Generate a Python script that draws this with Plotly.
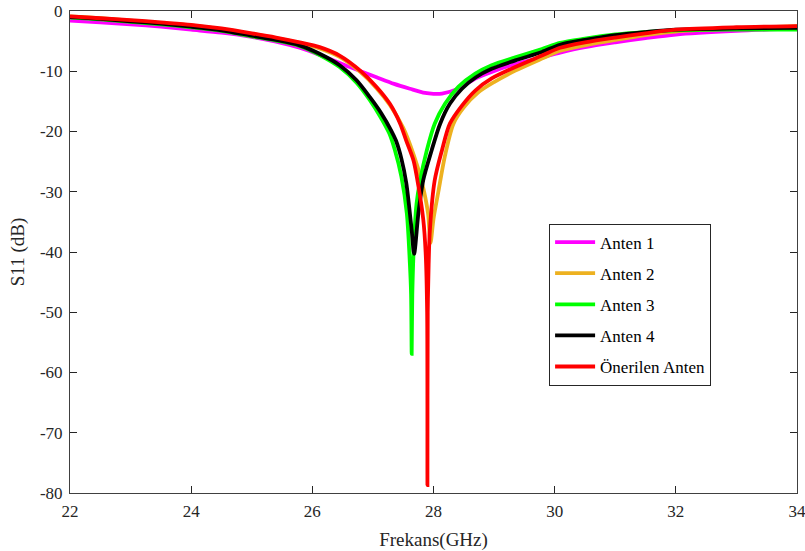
import plotly.graph_objects as go

# ---- data ----
names = ["Anten 1", "Anten 2", "Anten 3", "Anten 4", "Önerilen Anten"]
colors = ["#FF00FF", "#EDB120", "#00FF00", "#000000", "#FF0000"]

f_a1 = [22, 22.5, 23, 23.5, 24, 24.5, 25, 25.4, 25.79, 26.2, 26.62, 27.06, 27.35, 27.61,
        27.86, 28.0, 28.14, 28.41, 28.69, 28.96, 29.35, 29.79, 30.09, 30.5, 31, 31.5,
        32, 33, 34]
s_a1 = [-1.6, -1.9, -2.2, -2.6, -3.1, -3.6, -4.3, -5.1, -6.1, -7.6, -9.3, -11.0, -12.1,
        -12.9, -13.6, -13.75, -13.7, -12.9, -11.2, -10.1, -8.8, -7.7, -6.9, -6.0, -5.2,
        -4.5, -3.9, -3.3, -2.9]

f_a2 = [22, 22.5, 23, 23.5, 24, 24.5, 25, 25.4, 25.79, 26.12, 26.45, 26.79, 27.06, 27.28,
        27.5, 27.67, 27.8, 27.91, 27.95, 28.0, 28.08, 28.19, 28.33, 28.5, 28.74, 29.0,
        29.35, 29.79, 30.09, 30.5, 31, 31.5, 32, 33, 34]
s_a2 = [-0.9, -1.2, -1.6, -2.0, -2.4, -3.0, -3.8, -4.5, -5.3, -6.2, -7.6, -10.1, -12.8,
        -15.6, -19.4, -23.8, -28.1, -33.6, -38.5, -34.5, -30.0, -24.0, -18.7, -16.0,
        -13.5, -11.8, -9.9, -7.9, -6.6, -5.7, -4.8, -4.0, -3.4, -2.9, -2.5]

f_a3 = [22, 22.5, 23, 23.5, 24, 24.5, 25, 25.4, 25.79, 26.12, 26.45, 26.73, 26.95, 27.12,
        27.27, 27.36, 27.47, 27.56, 27.61, 27.63, 27.64, 27.65, 27.68, 27.72, 27.78,
        27.89, 28.02, 28.19, 28.41, 28.69, 28.96, 29.35, 29.79, 30.09, 30.5, 31, 31.5,
        32, 33, 34]
s_a3 = [-1.1, -1.4, -1.8, -2.2, -2.7, -3.3, -4.2, -4.9, -5.8, -7.3, -9.3, -11.9, -14.8,
        -17.5, -20.3, -23.0, -27.5, -33.6, -41.9, -47.0, -56.9, -47.0, -38.0, -32.0,
        -28.1, -23.1, -18.7, -15.4, -12.6, -10.4, -9.0, -7.7, -6.3, -5.3, -4.6, -3.9,
        -3.5, -3.2, -3.1, -3.1]

f_a4 = [22, 22.5, 23, 23.5, 24, 24.5, 25, 25.4, 25.79, 26.12, 26.45, 26.73, 26.95, 27.14,
        27.3, 27.38, 27.47, 27.55, 27.64, 27.68, 27.75, 27.83, 27.97, 28.11, 28.27,
        28.47, 28.7, 28.96, 29.35, 29.79, 30.09, 30.5, 31, 31.5, 32, 33, 34]
s_a4 = [-1.0, -1.3, -1.7, -2.1, -2.6, -3.2, -4.1, -4.8, -5.7, -7.1, -9.0, -11.5, -14.3,
        -17.0, -19.8, -21.5, -24.5, -28.5, -36.4, -40.3, -33.6, -28.1, -23.1, -18.7,
        -15.4, -12.9, -11.0, -9.6, -8.2, -6.8, -5.6, -4.8, -4.0, -3.5, -3.1, -2.9, -2.8]

f_prop = [22, 22.5, 23, 23.5, 24, 24.5, 25, 25.4, 25.79, 26.12, 26.45, 26.79, 27.06, 27.28,
          27.45, 27.55, 27.67, 27.75, 27.83, 27.87, 27.895, 27.90, 27.905, 27.92, 27.94,
          28.02, 28.14, 28.27, 28.47, 28.69, 28.96, 29.35, 29.79, 30.09, 30.5, 31, 31.5,
          32, 33, 34]
s_prop = [-0.9, -1.2, -1.5, -1.9, -2.3, -2.9, -3.7, -4.4, -5.2, -6.0, -7.4, -9.9, -12.6,
          -15.4, -18.7, -21.5, -24.8, -29.0, -34.5, -40.0, -50.0, -78.7, -50.0, -42.0,
          -36.4, -28.1, -23.1, -18.7, -15.7, -13.2, -11.2, -9.3, -7.4, -6.1, -5.2, -4.4,
          -3.7, -3.1, -2.7, -2.5]

series_f = [f_a1, f_a2, f_a3, f_a4, f_prop]
series_s = [s_a1, s_a2, s_a3, s_a4, s_prop]

x_ticks = [22, 24, 26, 28, 30, 32, 34]
y_ticks = [-80, -70, -60, -50, -40, -30, -20, -10, 0]

FONT = "Liberation Serif, Times New Roman, serif"

fig = go.Figure()
for i, (nm, col) in enumerate(zip(names, colors)):
    fig.add_trace(go.Scatter(
        x=series_f[i], y=series_s[i], mode="lines", name=nm,
        line=dict(color=col, width=3.8, shape="spline", smoothing=0.8),
        legendgroup=f"g{i}",
    ))

axis_common = dict(
    showgrid=False, zeroline=False, showline=True, linecolor="#404040", linewidth=1,
    mirror="ticks", ticks="inside", ticklen=7, tickwidth=1, tickcolor="#262626",
    tickfont=dict(family=FONT, size=17, color="#262626"), automargin=False,
    ticklabeloverflow="allow", ticklabelstandoff=3,
)

fig.update_layout(
    width=805, height=551,
    margin=dict(l=70, r=8, t=10.5, b=58),
    paper_bgcolor="white", plot_bgcolor="white",
    font=dict(family=FONT, color="#262626"),
    xaxis=dict(range=[22, 34], tickvals=x_ticks, ticktext=[str(v) for v in x_ticks],
               title=dict(text="Frekans(GHz)", font=dict(family=FONT, size=19), standoff=12),
               **axis_common),
    yaxis=dict(range=[-80, 0], tickvals=y_ticks, ticktext=[str(v) for v in y_ticks],
               title=dict(text="S11 (dB)", font=dict(family=FONT, size=19), standoff=10),
               **axis_common),
    legend=dict(
        x=0.659, y=0.559, xanchor="left", yanchor="top",
        bgcolor="white", bordercolor="#262626", borderwidth=1,
        font=dict(family=FONT, size=17, color="#000000"),
        traceorder="grouped", tracegroupgap=6, itemwidth=40,
    ),
    showlegend=True,
)

# remove the page's default body margin so the figure fills the window exactly
fig.write_html("out.html", config={"displayModeBar": False},
               post_script="document.body.style.margin='0';document.body.style.overflow='hidden';")
